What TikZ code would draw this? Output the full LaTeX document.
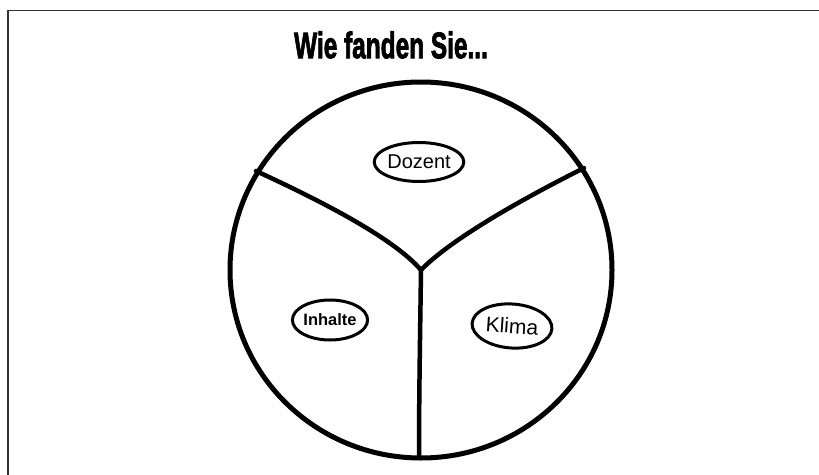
\documentclass[tikz,border=0pt]{standalone}
\usepackage{fontspec}
\usepackage{graphicx}
\setmainfont{Liberation Sans}
\newfontfamily\titlefont[FakeBold=2.5]{Liberation Sans Bold}
\usetikzlibrary{shapes.geometric}
\begin{document}
\begin{tikzpicture}[x=1pt,y=-1pt,
  frameline/.style={draw=black!80, line width=1.6pt},
  wheel/.style={draw, ellipse, line width=5pt, inner sep=0pt},
  spoke/.style={line width=4.5pt, line cap=round, line join=round},
  label/.style={draw, ellipse, line width=3pt, inner sep=0pt}]
\useasboundingbox (0,0) rectangle (819,474);
% frame
\coordinate (fbl) at (8,476);
\coordinate (ftl) at (8,10.5);
\coordinate (ftr) at (821,10.5);
\draw[frameline] (fbl) -- (ftl) -- (ftr);
% title
\node (title) at (391,45) {\fontsize{37}{40}\selectfont\scalebox{0.66}[1]{\titlefont Wie fanden Sie...}};
% wheel
\node[wheel, minimum width=382pt, minimum height=376pt] (wheel) at (421,270) {};
\coordinate (hub) at (421,270);
\coordinate (el) at (256,171);
\coordinate (er) at (584,168);
\coordinate (eb) at (419,456);
\draw[spoke] (el) .. controls (330,205) and (395,240) .. (hub);
\draw[spoke] (hub) .. controls (450,240) and (520,200) .. (er);
\draw[spoke] (hub) .. controls (420,340) and (419,400) .. (eb);
% labels
\node[label, minimum width=84pt, minimum height=39pt] (dozent) at (419,162) {\fontsize{20}{22}\selectfont Dozent};
\node[label, minimum width=74pt, minimum height=40pt] (inhalte) at (330,320) {\fontsize{16.5}{18}\selectfont\bfseries Inhalte};
\node[label, minimum width=80pt, minimum height=44pt, rotate=-4] (klima) at (512,326) {\fontsize{21}{24}\selectfont Klima};
\end{tikzpicture}
\end{document}
